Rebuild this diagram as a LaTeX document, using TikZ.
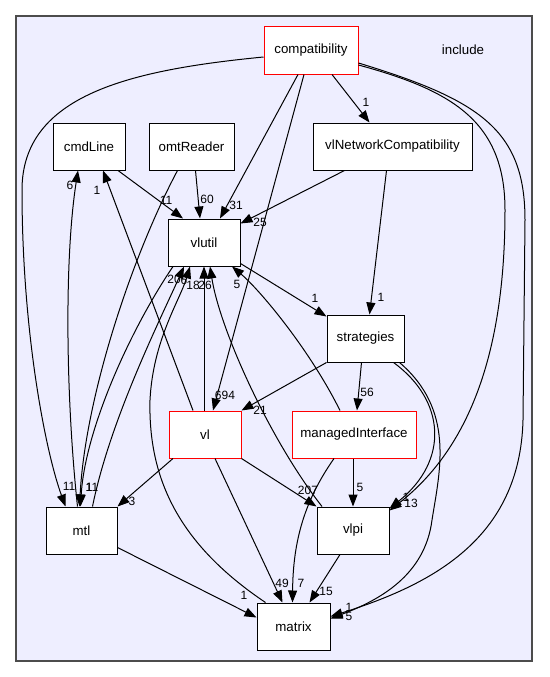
\documentclass[tikz,border=0pt]{standalone}
\usepackage{fontspec}
\setmainfont{Liberation Sans}
\usetikzlibrary{arrows.meta}
\definecolor{clusterbg}{HTML}{EEEEFF}

\begin{document}
\begin{tikzpicture}[x=1pt,y=-1pt,>={Triangle[length=12pt,width=9pt]},
        dirbox/.style={draw=black,fill=white,line width=1pt,minimum width=72pt,minimum height=47pt,inner sep=0pt,font=\fontsize{13.3}{15}\selectfont},
        redbox/.style={dirbox,draw=red},
        lbl/.style={inner sep=0pt,font=\fontsize{12}{14}\selectfont},
        dep/.style={->,line width=1pt}]
        \useasboundingbox (0,0) rectangle (549,677);
        \draw [fill=clusterbg,draw=black!70,line width=1.5pt] (16,16) rectangle (532,661);
        \node [font=\fontsize{13.3}{15}\selectfont] (include) at (463,50) {include};
        % directories
        \node [redbox,minimum width=94pt] (compat) at (311,50.5) {compatibility};
        \node [dirbox] (cmdline) at (89,146.5) {cmdLine};
        \node [dirbox,minimum width=85pt] (omtreader) at (191.5,146.5) {omtReader};
        \node [dirbox,minimum width=159pt] (vlnet) at (392.5,146.5) {vlNetworkCompatibility};
        \node [dirbox] (vlutil) at (204,242.5) {vlutil};
        \node [dirbox,minimum width=77pt] (strategies) at (365.5,338.5) {strategies};
        \node [redbox] (vl) at (205,434.5) {vl};
        \node [redbox,minimum width=124pt] (managed) at (354,434.5) {managedInterface};
        \node [dirbox,minimum width=71pt] (mtl) at (81.5,530.5) {mtl};
        \node [dirbox] (vlpi) at (353,530.5) {vlpi};
        \node [dirbox,minimum width=73pt] (matrix) at (293.5,626.5) {matrix};
        % dependencies
        \draw [dep] ([xshift=21pt]compat.south) -- ([xshift=-23pt]vlnet.north) node [lbl] at (366,102) {1};
        \draw [dep] ([xshift=-13pt]compat.south) -- ([xshift=16pt]vlutil.north) node [lbl] at (236,205) {31};
        \draw [dep] ([xshift=-7pt]compat.south) -- ([xshift=8pt]vl.north) node [lbl] at (225,395) {694};
        \draw [dep] ([yshift=-6.5pt]compat.west) .. controls (130,70) and (22,95) .. (22,190) .. controls (22,330) and (45,450) .. ([xshift=-16pt]mtl.north) node [lbl] at (69,486) {11};
        \draw [dep] ([yshift=-14.5pt]compat.east) .. controls (450,90) and (505,120) .. (505,210) .. controls (505,330) and (480,440) .. ([yshift=20pt]vlpi.east) node [lbl] at (411,503) {13};
        \draw [dep] ([yshift=-12.5pt]compat.east) .. controls (480,100) and (525,130) .. (525,220) -- (523,420) .. controls (520,540) and (430,585) .. ([yshift=10pt]matrix.east) node [lbl] at (349,616) {5};
        \draw [dep] ([xshift=29pt]cmdline.south) -- ([xshift=-21pt]vlutil.north) node [lbl] at (166,200) {11};
        \draw [dep] ([xshift=4pt]omtreader.south) -- ([xshift=-4pt]vlutil.north) node [lbl] at (207,199) {60};
        \draw [dep] ([xshift=-14pt]omtreader.south) .. controls (130,260) and (85,400) .. ([xshift=-2pt]mtl.north) node [lbl] at (89,487) {1};
        \draw [dep] ([xshift=-48pt]vlnet.south) -- ([yshift=19pt]vlutil.east) node [lbl] at (260,222) {25};
        \draw [dep] ([xshift=-6pt]vlnet.south) -- ([xshift=4pt]strategies.north) node [lbl] at (381,297) {1};
        \draw [dep] ([yshift=-21pt]vlutil.east) -- ([yshift=-2pt]strategies.north west) node [lbl] at (315,298) {1};
        \draw [dep] ([xshift=-4pt]mtl.north) .. controls (66,400) and (64,260) .. ([xshift=-11pt]cmdline.south) node [lbl] at (70,185) {6};
        \draw [dep] ([xshift=-12pt]vl.north) -- ([xshift=14pt]cmdline.south) node [lbl] at (97,190) {1};
        \draw [dep] ([xshift=-28pt]matrix.north) .. controls (180,545) and (148,480) .. (150,400) .. controls (153,340) and (180,300) .. ([xshift=-14pt]vlutil.south) node [lbl] at (184,280) {6};
        \draw [dep] ([xshift=11pt]mtl.north) .. controls (110,420) and (160,320) .. ([xshift=-20pt]vlutil.south) node [lbl] at (174,279) {20};
        \draw [dep] ([xshift=-31pt]vlutil.south) .. controls (130,330) and (85,430) .. ([xshift=-1pt]mtl.north) node [lbl] at (92,487) {11};
        \draw [dep] ([xshift=-1pt]vl.north) -- (vlutil.south) node [lbl] at (193,285) {18};
        \draw [dep] ([xshift=-31pt]vlpi.north) .. controls (270,440) and (220,330) .. ([xshift=6pt]vlutil.south) node [lbl] at (205,285) {26};
        \draw [dep] ([xshift=-14pt]managed.north) .. controls (310,350) and (260,290) .. ([xshift=28pt]vlutil.south) node [lbl] at (237,284) {5};
        \draw [dep] (strategies.south west) -- (vl.north east) node [lbl] at (260,410) {21};
        \draw [dep] ([xshift=-4pt]strategies.south) -- ([xshift=3pt]managed.north) node [lbl] at (367,392) {56};
        \draw [dep] ([xshift=28pt]strategies.south) .. controls (445,400) and (450,460) .. ([yshift=22pt]vlpi.east) node [lbl] at (406,497) {1};
        \draw [dep] ([xshift=34pt]strategies.south) .. controls (455,410) and (440,470) .. (432,520) .. controls (425,575) and (380,600) .. ([yshift=8pt]matrix.east) node [lbl] at (349,607) {1};
        \draw [dep] ([xshift=-32pt]vl.south) -- (mtl.north east) node [lbl] at (132,501) {3};
        \draw [dep] (vl.south east) -- (vlpi.north west) node [lbl] at (308,490) {207};
        \draw [dep] ([xshift=10pt]vl.south) -- ([xshift=-11pt]matrix.north) node [lbl] at (282,583) {49};
        \draw [dep] ([xshift=-1pt]managed.south) -- (vlpi.north) node [lbl] at (360,487) {5};
        \draw [dep] ([xshift=-20pt]managed.south) .. controls (305,500) and (293,540) .. ([xshift=-1pt]matrix.north) node [lbl] at (301,583) {7};
        \draw [dep] ([xshift=-13pt]vlpi.south) -- ([xshift=16pt]matrix.north) node [lbl] at (326,591) {15};
        \draw [dep] ([yshift=-17pt]mtl.east) -- ([yshift=9pt]matrix.west) node [lbl] at (244,595) {1};
\end{tikzpicture}
\end{document}
